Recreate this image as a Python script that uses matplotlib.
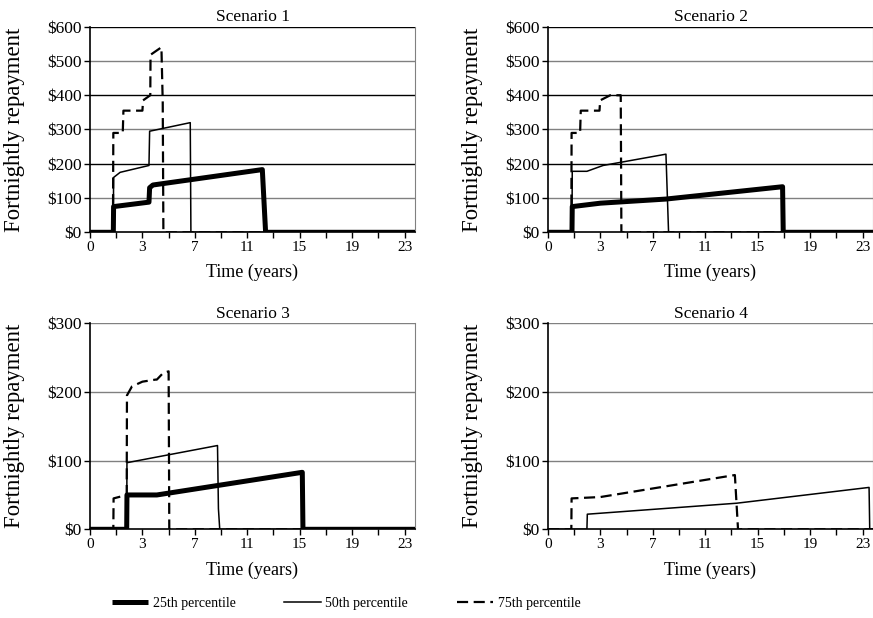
import matplotlib
matplotlib.use("Agg")
import matplotlib.pyplot as plt
from matplotlib.lines import Line2D

plt.rcParams['font.family'] = ['Liberation Serif', 'DejaVu Serif']

# x values are in axis units; tick labels below map them to years
tick_pos = [0, 4, 8, 12, 16, 20, 24]
tick_labels = ["0", "3", "7", "11", "15", "19", "23"]

scenarios = ["Scenario 1", "Scenario 2", "Scenario 3", "Scenario 4"]
y_tops = [600, 600, 300, 300]

# Scenario 1
s1_p25_x = [0, 1.78, 1.8, 4.5, 4.55, 4.8, 13.15, 13.4, 24.8]
s1_p25_y = [0, 0, 75, 88, 130, 138, 183, 0, 0]
s1_p50_x = [0, 1.78, 1.8, 2.3, 4.5, 4.55, 7.65, 7.7, 24.8]
s1_p50_y = [0, 0, 160, 175, 195, 295, 320, 0, 0]
s1_p75_x = [0, 1.75, 1.78, 2.5, 2.55, 4.0, 4.05, 4.6, 4.62, 5.45, 5.55, 5.6, 24.8]
s1_p75_y = [0, 0, 290, 290, 355, 355, 385, 400, 518, 540, 380, 0, 0]

# Scenario 2
s2_p25_x = [0, 1.83, 1.85, 4.0, 9.0, 17.9, 17.95, 24.8]
s2_p25_y = [0, 0, 75, 85, 97, 133, 0, 0]
s2_p50_x = [0, 1.83, 1.85, 2.97, 4.2, 9.0, 9.2, 24.8]
s2_p50_y = [0, 0, 178, 178, 195, 228, 0, 0]
s2_p75_x = [0, 1.78, 1.8, 2.45, 2.5, 3.93, 3.98, 4.75, 5.55, 5.6, 24.8]
s2_p75_y = [0, 0, 290, 290, 355, 355, 385, 400, 400, 0, 0]

# Scenario 3
s3_p25_x = [0, 2.8, 2.82, 5.1, 16.2, 16.25, 24.8]
s3_p25_y = [0, 0, 50, 50, 83, 0, 0]
s3_p50_x = [0, 2.8, 2.82, 9.73, 9.8, 9.9, 24.8]
s3_p50_y = [0, 0, 97, 122, 30, 0, 0]
s3_p75_x = [0, 1.78, 1.8, 2.8, 2.82, 3.2, 4.0, 5.0, 5.1, 5.6, 6.0, 6.05, 24.8]
s3_p75_y = [0, 0, 45, 50, 195, 208, 215, 218, 218, 228, 230, 0, 0]

# Scenario 4 (no 25th percentile line)
s4_p50_x = [0, 2.97, 3.0, 14.4, 24.5, 24.55, 24.8]
s4_p50_y = [0, 0, 22, 38, 61, 0, 0]
s4_p75_x = [0, 1.78, 1.8, 4.0, 14.26, 14.5, 24.8]
s4_p75_y = [0, 0, 45, 47, 79, 0, 0]

series = [
    [(s1_p25_x, s1_p25_y), (s1_p50_x, s1_p50_y), (s1_p75_x, s1_p75_y)],
    [(s2_p25_x, s2_p25_y), (s2_p50_x, s2_p50_y), (s2_p75_x, s2_p75_y)],
    [(s3_p25_x, s3_p25_y), (s3_p50_x, s3_p50_y), (s3_p75_x, s3_p75_y)],
    [None, (s4_p50_x, s4_p50_y), (s4_p75_x, s4_p75_y)],
]

styles = [
    dict(color="black", lw=3.6, ls="-", solid_capstyle="butt", zorder=4),
    dict(color="black", lw=1.1, ls="-", zorder=5),
    dict(color="black", lw=1.6, ls=(0, (5, 2.5)), zorder=3),
]
legend_labels = ["25th percentile", "50th percentile", "75th percentile"]

W, H = 873, 618
fig = plt.figure(figsize=(W / 100, H / 100), dpi=100)
boxes = [(90, 26.7, 415, 232.3), (548, 26.7, 873, 232.3),
         (90, 323.3, 415, 529.3), (548, 323.3, 873, 529.3)]

for k, (l, t, r, b) in enumerate(boxes):
    ax = fig.add_axes([l / W, 1 - b / H, (r - l) / W, (b - t) / H])
    top = y_tops[k]
    for g in range(100, top + 1, 100):
        dark = top == 600 and g % 200 == 0
        ax.axhline(g, color="black" if dark else "#808080", lw=1.0, zorder=1)
    for s, st in zip(series[k], styles):
        if s is None:
            continue
        ax.plot(s[0], s[1], **st)
    ax.set_xlim(0, 24.8)
    ax.set_ylim(0, top)
    ax.set_xticks(tick_pos)
    ax.set_xticklabels(tick_labels, fontsize=11)
    ax.set_xticks(range(2, 25, 4), minor=True)
    ax.set_yticks(range(0, top + 1, 100))
    ax.set_yticklabels(["$%d" % v for v in range(0, top + 1, 100)], fontsize=12.5)
    ax.tick_params(axis="both", which="both", direction="out", length=4,
                   width=1, pad=2)
    ax.spines["top"].set_visible(False)
    ax.spines["right"].set_color("#808080")
    ax.spines["left"].set_linewidth(1.2)
    ax.spines["bottom"].set_linewidth(1.2)
    ax.set_title(scenarios[k], fontsize=12.5, pad=4)
    ax.set_xlabel("Time (years)", fontsize=13)
    ax.xaxis.set_label_coords(0.5, -0.155)
    ax.set_ylabel("Fortnightly repayment", fontsize=16.4)
    ax.yaxis.set_label_coords(-0.2, 0.5)

handles = [Line2D([], [], **{kk: v for kk, v in st.items() if kk != "zorder"})
           for st in styles]
fig.legend(handles, legend_labels, loc="center left", ncol=3,
           bbox_to_anchor=(112 / W, 1 - 603 / H), frameon=False, fontsize=10,
           handlelength=2.6, columnspacing=3.5, handletextpad=0.35,
           borderpad=0, borderaxespad=0)

fig.savefig("out.png", dpi=100)
